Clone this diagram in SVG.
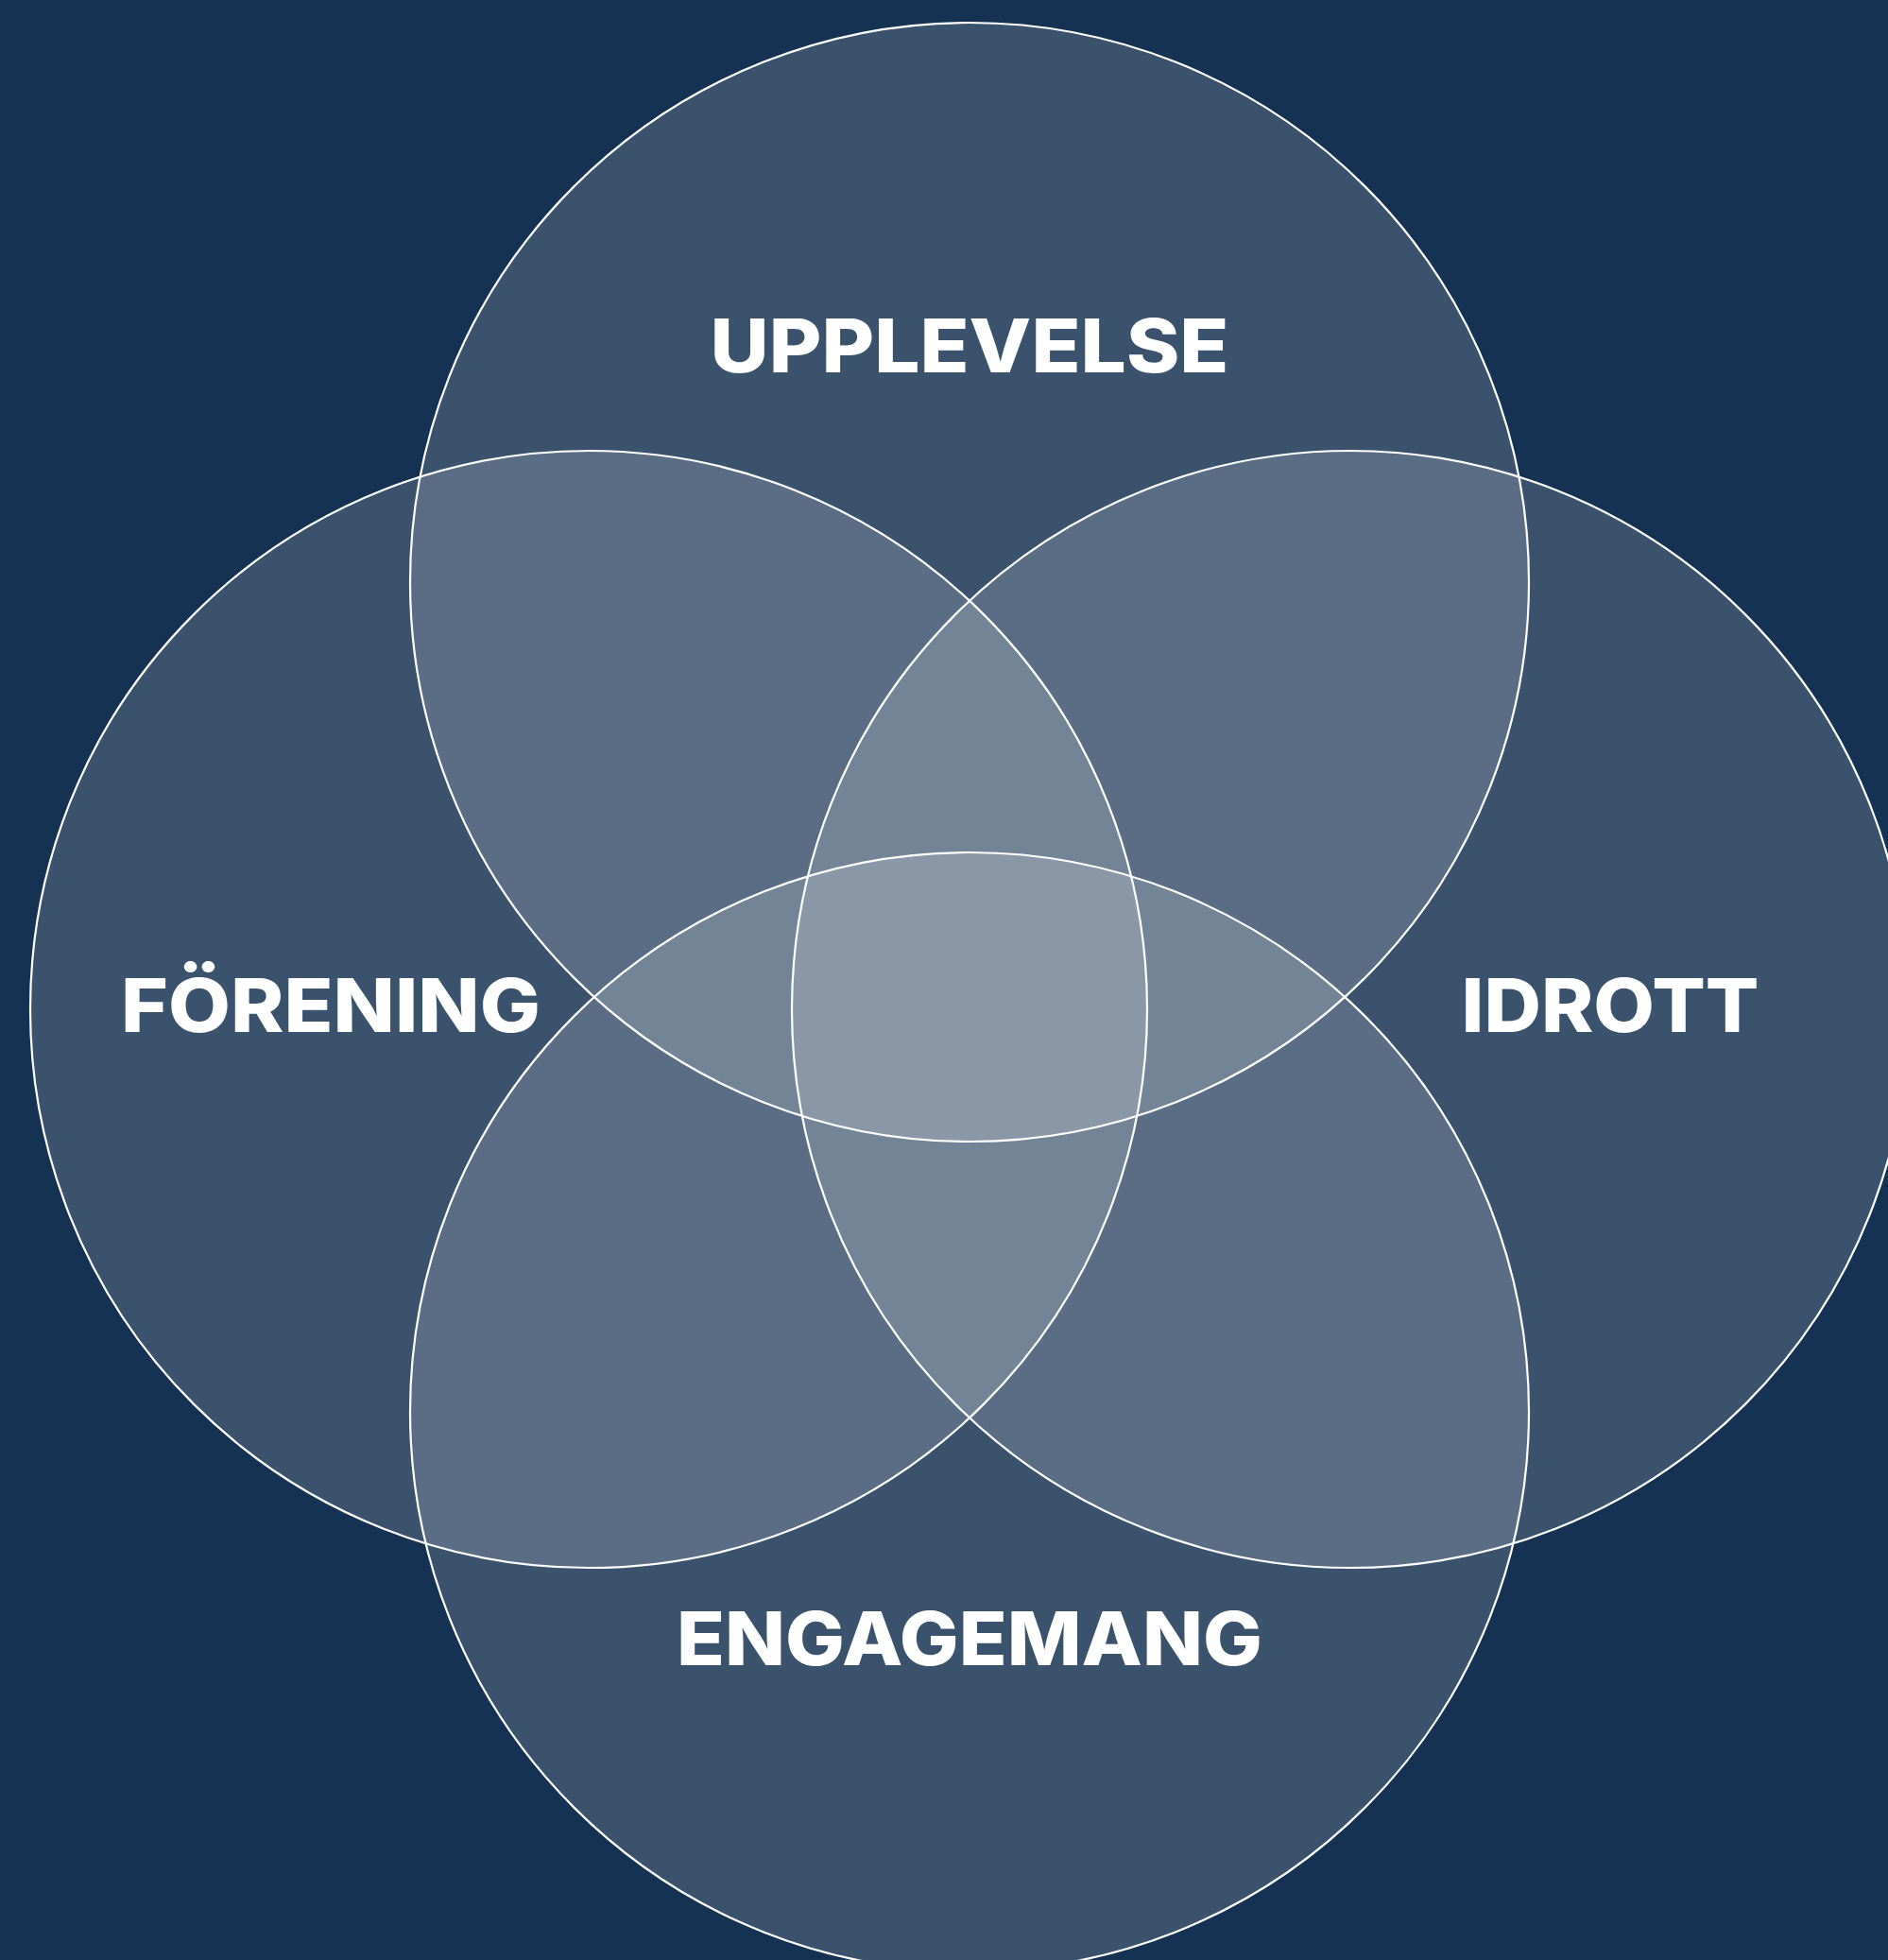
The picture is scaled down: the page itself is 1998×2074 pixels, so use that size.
<svg xmlns="http://www.w3.org/2000/svg" width="1998" height="2074" viewBox="0 0 1998 2074">
<style>
.bg{fill:#163252}
.c{fill:#ffffff;fill-opacity:0.16;stroke:#ffffff;stroke-width:2.2}
.t{fill:#ffffff;font-family:Inter,"Noto Sans","Liberation Sans",sans-serif;font-weight:800;font-size:78px;text-anchor:middle}
</style>
<rect class="bg" x="0" y="0" width="1998" height="2074"/>
<g id="upplevelse">
<circle class="c" cx="1026" cy="616" r="592"/>
<text class="t" x="1026" y="394" textLength="549" lengthAdjust="spacingAndGlyphs">UPPLEVELSE</text>
</g>
<g id="forening">
<circle class="c" cx="623" cy="1068" r="591"/>
<text class="t" x="350" y="1092" textLength="444" lengthAdjust="spacingAndGlyphs">FÖRENING</text>
</g>
<g id="idrott">
<circle class="c" cx="1429" cy="1068" r="591"/>
<text class="t" x="1704" y="1092" textLength="315" lengthAdjust="spacingAndGlyphs">IDROTT</text>
</g>
<g id="engagemang">
<circle class="c" cx="1026" cy="1494" r="592"/>
<text class="t" x="1026" y="1762" textLength="620" lengthAdjust="spacingAndGlyphs">ENGAGEMANG</text>
</g>
<g id="connectors"></g>
</svg>
